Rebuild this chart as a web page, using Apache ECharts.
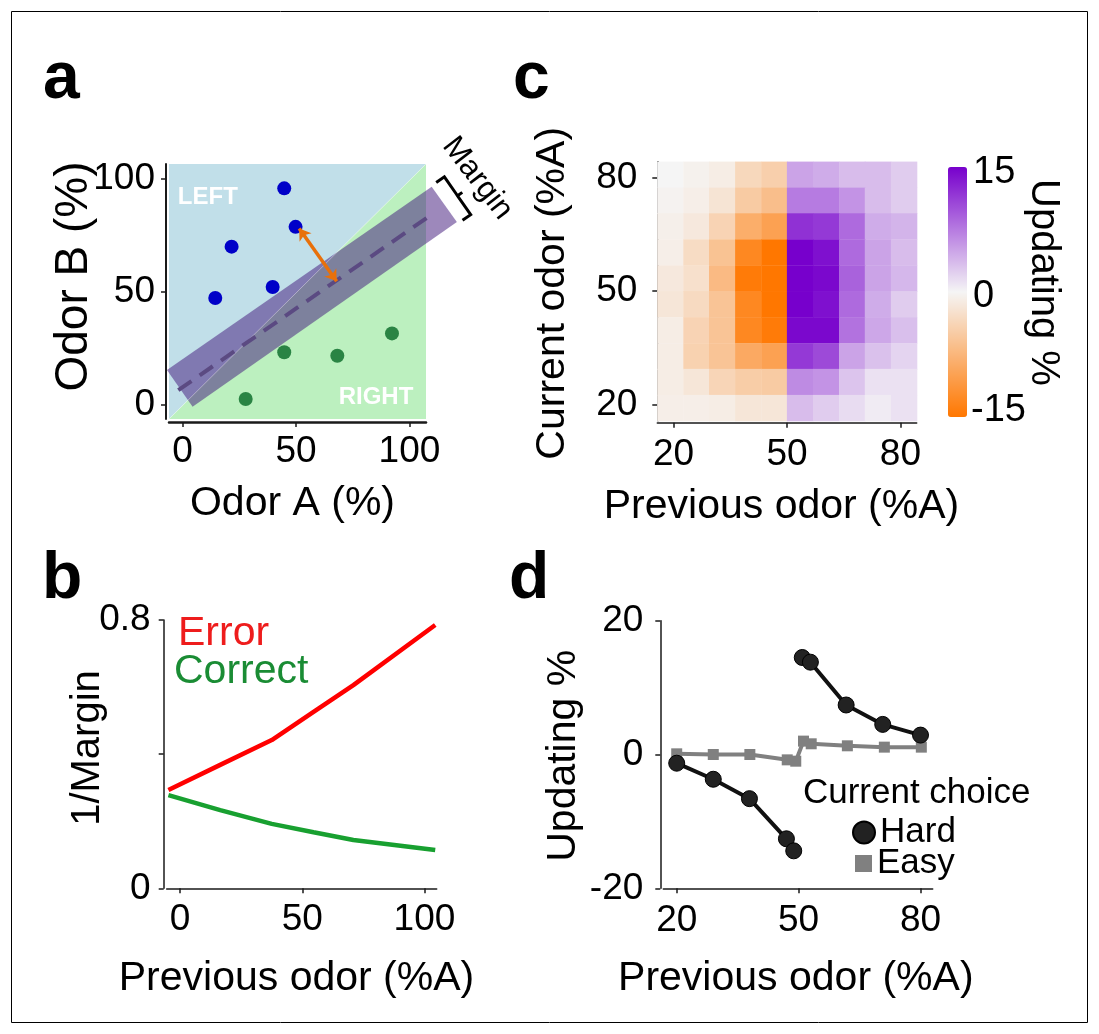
<!DOCTYPE html>
<html><head><meta charset="utf-8">
<script src="https://cdn.jsdelivr.net/npm/echarts@6/dist/echarts.min.js"></script>
<style>html,body{margin:0;padding:0;background:#fff}#chart{width:1099px;height:1034px}</style>
</head><body><div id="chart"></div>
<script>
// ---------- Panel a ----------
const leftPointsA = [[44.8,95.9],[49.8,78.8],[21.6,70.0],[39.7,52.1],[14.4,47.2]];
const rightPointsA = [[44.8,23.1],[68.2,21.6],[92.3,31.5],[27.8,2.4]];
const leftRegion = [[-6,-6.5],[-6,106.7],[107.3,106.7]];
const rightRegion = [[-6,-6.5],[107.3,-6.5],[107.3,106.7]];
const regionDiagonal = [[-6,-6.5],[107.3,106.7]];
const marginBand = [[-6.9,15.2],[4.4,-1.1],[120.9,81.0],[109.8,96.6]];
const boundaryLine = [[-1.9,6.3],[115.7,88.4]];
const marginArrow = [[51.4,78.1],[67.9,54.6]];
const marginBracket = [[111.8,98.5],[115.4,101.0],[121.2,92.6],[123.3,94.1],[121.2,92.6],[127.0,84.2],[123.4,81.7]];
const regionLabels = [
  {text:'LEFT', pos:[-2.1,92.1], align:'left'},
  {text:'RIGHT', pos:[101.7,3.1], align:'right'}
];
const marginLabelPos = [130.0,100.3];
const ticksA = [0,50,100];

// ---------- Panel b ----------
const prevOdorB = [-4.8, 16.4, 37.5, 54.6, 70.9, 104.4];
const errorMargin = [0.293, 0.368, 0.442, 0.526, 0.606, 0.785];
const correctMargin = [0.278, 0.233, 0.192, 0.167, 0.144, 0.114];
const ticksBx = [0,50,100];

// ---------- Panel c ----------
const binCenters = [19.1, 26.0, 32.8, 39.7, 46.6, 53.4, 60.3, 67.2, 74.0, 80.9];
const BIN_HALF = 3.43;
// rows from current odor 80.9 (top) down to 19.1 (bottom); columns previous odor 19.1 -> 80.9
const updatingRows = [
  [0, -0.5, -1, -3.5, -4.5, 5, 4.5, 3.5, 3.5, 2.5],
  [-0.3, -0.8, -2, -5, -6.5, 7.5, 7.5, 6, 3.5, 2.5],
  [-0.7, -1.5, -4, -8.5, -10, 12, 11.5, 8.5, 4.5, 4],
  [-0.8, -3, -6, -13, -15, 15, 14, 8.5, 5, 3.5],
  [-1.5, -2.5, -7, -14.5, -15, 15, 14.5, 9, 5, 3.8],
  [-1.8, -3.2, -5.8, -13, -15, 15, 14, 8.5, 4.5, 2.5],
  [-1, -4, -5.8, -13, -14.5, 14.5, 14.5, 8, 4.8, 3.3],
  [-1, -4.2, -5.8, -9, -10, 11.5, 10.5, 5, 3.2, 2],
  [-1, -1.8, -3.8, -4.8, -5, 6.5, 6, 3, 1.2, 1.2],
  [-0.8, -0.8, -1, -1.8, -1.8, 3.5, 2.5, 1.5, 0.6, 1.2]
];
const ticksC = [20,50,80];
const colorbarLabels = ['15','0','-15'];

// ---------- Panel d ----------
const hardLow = [[20,-1.3],[29,-3.7],[37.9,-6.6],[47.0,-12.6],[48.8,-14.4]];
const hardHigh = [[50.9,14.5],[52.9,13.8],[61.7,7.4],[70.7,4.5],[80,2.9]];
const easyPts = [[20,0.1],[29,0.0],[38,0.0],[47.2,-0.8],[49.3,-1.0],[51.2,2.0],[53.1,1.6],[62.0,1.3],[71.1,1.1],[80.2,1.1]];
const ticksD = [20,50,80];

// ---------- build ----------
const FF = "'Liberation Sans', Arial, Helvetica, sans-serif";
const heatData = [];
updatingRows.forEach((row, r) => {
  const y = binCenters[binCenters.length - 1 - r];
  row.forEach((v, c) => heatData.push([binCenters[c], y, v]));
});

function ax(gridIndex, opts, lw) {
  const base = {
    gridIndex, type:'value',
    axisLine:{show:true, onZero:false, lineStyle:{color:'#1a1a1a', width:lw || 1.5}},
    axisTick:{show:true, length:5, lineStyle:{color:'#1a1a1a', width:1.5}},
    splitLine:{show:false},
    axisLabel:{color:'#000', fontSize:37, fontFamily:FF}
  };
  const o = Object.assign(base, opts);
  if (opts.tickValues) { o.axisTick.customValues = opts.tickValues; }
  if (opts.labelValues) { o.axisLabel.customValues = opts.labelValues; }
  if (opts.margin !== undefined) { o.axisLabel.margin = opts.margin; }
  delete o.tickValues; delete o.labelValues; delete o.margin;
  return o;
}

function polygonSeries(points, color, z) {
  return {
    type:'custom', xAxisIndex:0, yAxisIndex:0, clip:false, z, silent:true,
    data:[[points[0][0], points[0][1]]],
    renderItem(params, api) {
      return {type:'polygon', shape:{points: points.map(p => api.coord(p))}, style:{fill:color}};
    }
  };
}

function txt(text, x, y, size, opts) {
  opts = opts || {};
  return {
    type:'text', x, y, rotation: opts.rot || 0, z:100,
    style:{text, fill: opts.fill || '#000', fontSize:size, fontFamily:FF,
      fontWeight: opts.weight || 'normal', align: opts.align || 'center', verticalAlign:'middle'}
  };
}

const option = {
  animation:false,
  backgroundColor:'#fff',
  grid:[
    {left:169, top:164, width:257, height:255},
    {left:166.7, top:620, width:270, height:268.3},
    {left:657.3, top:161.7, width:259.4, height:259},
    {left:663.3, top:620.7, width:269.4, height:267.6}
  ],
  xAxis:[
    ax(0, {min:-6, max:107.3, offset:3, tickValues:ticksA, labelValues:ticksA, margin:11}, 2.5),
    ax(1, {min:-5.5, max:105, tickValues:ticksBx, labelValues:ticksBx, margin:13}),
    ax(2, {min:15.7, max:84.3, offset:2, tickValues:ticksC, labelValues:ticksC, margin:14}),
    ax(3, {min:16.7, max:83, tickValues:ticksD, labelValues:ticksD, margin:14})
  ],
  yAxis:[
    ax(0, {min:-6.5, max:106.7, offset:3, tickValues:ticksA, labelValues:ticksA, margin:11}, 2),
    ax(1, {min:0, max:0.8, offset:3, tickValues:[0,0.4,0.8], labelValues:[0,0.8], margin:13}),
    ax(2, {min:15.7, max:84.3, tickValues:ticksC, labelValues:ticksC, margin:20}),
    ax(3, {min:-20, max:20, interval:20, offset:3, margin:17})
  ],
  visualMap:[{
    type:'continuous', seriesIndex:11, dimension:2, min:-15, max:15,
    inRange:{color:['#FF7700','#F5F5F5','#7700CC']},
    show:true, calculable:false, orient:'vertical',
    itemWidth:19, itemHeight:250, left:948, top:167, padding:0, text:null,
    hoverLink:false
  }],
  legend:[
    {data:[{name:'Hard', icon:'circle'}], left:852, top:815, itemWidth:22, itemHeight:22, padding:0,
      selectedMode:false, textStyle:{fontSize:35, fontFamily:FF, color:'#000'}},
    {data:[{name:'Easy', icon:'rect'}], left:855, top:846, itemWidth:17, itemHeight:17, padding:0,
      selectedMode:false, textStyle:{fontSize:35, fontFamily:FF, color:'#000'}}
  ],
  series:[
    // 0-1 panel a regions
    polygonSeries(leftRegion, '#C1DFE9', 1),
    polygonSeries(rightRegion, '#BCF0BF', 1),
    // 2 margin band
    polygonSeries(marginBand, 'rgba(69,31,127,0.53)', 3),
    // 3 diagonal seam
    {type:'line', xAxisIndex:0, yAxisIndex:0, data:regionDiagonal, showSymbol:false, silent:true,
      lineStyle:{color:'rgba(255,255,255,0.35)', width:1}, z:3.5},
    // 4 boundary dashed line
    {type:'line', xAxisIndex:0, yAxisIndex:0, data:boundaryLine, showSymbol:false, clip:false, silent:true,
      lineStyle:{color:'#5B4A82', width:4, type:[16,10]}, z:4},
    // 5-6 points
    {type:'scatter', name:'left', xAxisIndex:0, yAxisIndex:0, data:leftPointsA, symbolSize:14,
      itemStyle:{color:'#0000C8', opacity:1}, z:5},
    {type:'scatter', name:'right', xAxisIndex:0, yAxisIndex:0, data:rightPointsA, symbolSize:14,
      itemStyle:{color:'#2A8444', opacity:1}, z:5},
    // 7 arrow
    {type:'lines', coordinateSystem:'cartesian2d', xAxisIndex:0, yAxisIndex:0, data:[{coords:marginArrow}],
      symbol:['arrow','arrow'], symbolSize:11, lineStyle:{color:'#E8700A', width:3.5, opacity:1, curveness:0}, z:6, silent:true},
    // 8 bracket + labels annotations for panel a
    {type:'custom', xAxisIndex:0, yAxisIndex:0, clip:false, silent:true, z:7,
      data:[[marginLabelPos[0], marginLabelPos[1]]],
      renderItem(params, api) {
        const children = [];
        children.push({type:'polyline', shape:{points: marginBracket.map(p => api.coord(p))},
          style:{stroke:'#000', lineWidth:3, fill:null, lineJoin:'miter'}});
        const mp = api.coord(marginLabelPos);
        children.push({type:'text', x:mp[0], y:mp[1], rotation:-52.4*Math.PI/180,
          style:{text:'Margin', fontSize:31, fontFamily:FF, fill:'#000', align:'center', verticalAlign:'middle'}});
        regionLabels.forEach(l => {
          const p = api.coord(l.pos);
          children.push({type:'text', x:p[0], y:p[1],
            style:{text:l.text, fontSize:24, fontWeight:'bold', fontFamily:FF, fill:'#fff', align:l.align, verticalAlign:'middle'}});
        });
        return {type:'group', children};
      }
    },
    // 9-10 panel b
    {type:'line', name:'Error', xAxisIndex:1, yAxisIndex:1, data:prevOdorB.map((x,i)=>[x,errorMargin[i]]),
      showSymbol:false, lineStyle:{color:'#FF0000', width:4.5}, z:3},
    {type:'line', name:'Correct', xAxisIndex:1, yAxisIndex:1, data:prevOdorB.map((x,i)=>[x,correctMargin[i]]),
      showSymbol:false, lineStyle:{color:'#18A030', width:4.5}, z:3},
    // 11 panel c heatmap
    {type:'custom', xAxisIndex:2, yAxisIndex:2, data:heatData, silent:true,
      renderItem(params, api) {
        const x = api.value(0), y = api.value(1);
        const p1 = api.coord([x - BIN_HALF, y + BIN_HALF]);
        const p2 = api.coord([x + BIN_HALF, y - BIN_HALF]);
        return {type:'rect', shape:{x:p1[0], y:p1[1], width:p2[0]-p1[0]+0.5, height:p2[1]-p1[1]+0.5},
          style:{fill:api.visual('color')}};
      }
    },
    // 12-14 panel d
    {type:'line', name:'Easy', xAxisIndex:3, yAxisIndex:3, data:easyPts, symbol:'rect', symbolSize:11,
      lineStyle:{color:'#808080', width:4}, itemStyle:{color:'#808080'}, z:3},
    {type:'line', name:'Hard', xAxisIndex:3, yAxisIndex:3, data:hardLow, symbol:'circle', symbolSize:16,
      lineStyle:{color:'#111', width:4}, itemStyle:{color:'#222', borderColor:'#000', borderWidth:1}, z:4},
    {type:'line', name:'Hard', xAxisIndex:3, yAxisIndex:3, data:hardHigh, symbol:'circle', symbolSize:16,
      lineStyle:{color:'#111', width:4}, itemStyle:{color:'#222', borderColor:'#000', borderWidth:1}, z:4}
  ],
  graphic:[
    {type:'rect', shape:{x:11.5, y:11.5, width:1076, height:1011}, style:{fill:null, stroke:'#000', lineWidth:1}, z:0, silent:true},
    txt('a', 43, 80, 66, {weight:'bold', align:'left'}),
    txt('c', 513, 80, 66, {weight:'bold', align:'left'}),
    txt('b', 42, 580, 66, {weight:'bold', align:'left'}),
    txt('d', 509, 580, 66, {weight:'bold', align:'left'}),
    txt('Odor B (%)', 74, 276.5, 46, {rot:Math.PI/2}),
    txt('Odor A (%)', 292.5, 504, 41),
    txt('1/Margin', 88.3, 748, 40, {rot:Math.PI/2}),
    txt('Previous odor (%A)', 296.5, 979, 41),
    txt('Current odor (%A)', 552.5, 293.3, 41, {rot:Math.PI/2}),
    txt('Previous odor (%A)', 781.5, 506.3, 41),
    txt('Updating %', 563.3, 755.8, 41, {rot:Math.PI/2}),
    txt('Previous odor (%A)', 795.8, 979, 41),
    txt('Updating %', 1043.3, 282.5, 40, {rot:-Math.PI/2}),
    txt(colorbarLabels[0], 973, 172.5, 38, {align:'left'}),
    txt(colorbarLabels[1], 973, 297, 38, {align:'left'}),
    txt(colorbarLabels[2], 971, 411, 38, {align:'left'}),
    txt('Error', 178, 634, 41, {align:'left', fill:'#EE1C1C'}),
    txt('Correct', 174, 671.7, 41, {align:'left', fill:'#1A8C34'}),
    txt('Current choice', 916.7, 793.3, 35)
  ]
};

const chart = echarts.init(document.getElementById('chart'), null, {renderer:'canvas'});
chart.setOption(option);
</script>
</body></html>
